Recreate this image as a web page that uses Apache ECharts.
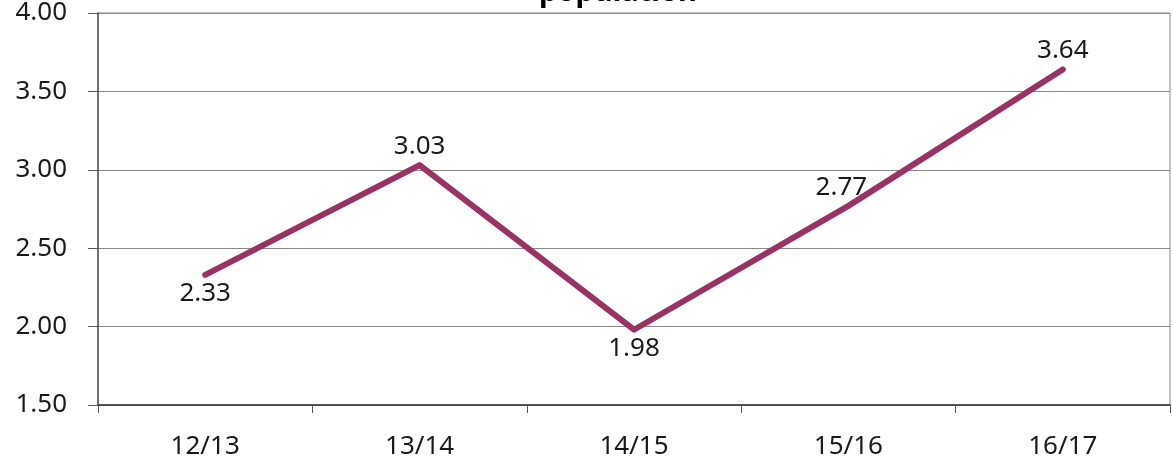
<!DOCTYPE html>
<html>
<head>
<meta charset="utf-8">
<script src="https://cdn.jsdelivr.net/npm/echarts@6/dist/echarts.min.js"></script>
<style>
  html, body { margin: 0; padding: 0; background: #fff; }
  #chart { width: 1173px; height: 461px; }
</style>
</head>
<body>
<div id="chart"></div>
<script>
// data
const categories = ['12/13', '13/14', '14/15', '15/16', '16/17']
const values = [2.33, 3.03, 1.98, 2.77, 3.64]
const labelPlaces = ['bottom', 'top', 'bottom', 'top', 'top']
const yTicks = { min: 1.5, max: 4, interval: 0.5 }

const font = 'Noto Sans'
const lineColor = '#993366'

const chart = echarts.init(document.getElementById('chart'))

chart.setOption({
  animation: false,
  title: {
    text: 'population',
    left: 534,
    top: -27,
    textStyle: { fontFamily: font, fontSize: 29, fontWeight: 'bold', color: '#000' }
  },
  grid: {
    left: 98,
    right: 3,
    top: 13,
    bottom: 56,
    show: true,
    borderColor: '#888',
    borderWidth: 1
  },
  xAxis: {
    type: 'category',
    data: categories,
    boundaryGap: true,
    axisLine: { lineStyle: { color: '#333', width: 1.5 } },
    axisTick: { show: true, length: 8, lineStyle: { color: '#555' } },
    axisLabel: { fontFamily: font, fontSize: 26, color: '#1a1a1a', margin: 29 }
  },
  yAxis: {
    type: 'value',
    min: yTicks.min,
    max: yTicks.max,
    interval: yTicks.interval,
    axisLine: { show: true, lineStyle: { color: '#555', width: 1.5 } },
    axisTick: { show: true, inside: false, length: 10, lineStyle: { color: '#555' } },
    axisLabel: {
      fontFamily: font, fontSize: 26, color: '#1a1a1a', margin: 31,
      formatter: v => v.toFixed(2)
    },
    splitLine: { lineStyle: { color: '#888', width: 1 } }
  },
  series: [
    {
      type: 'line',
      data: values.map((v, i) => ({
        value: v,
        label: {
          position: labelPlaces[i],
          offset: i === 3 ? [-7, 0] : [0, 0]
        }
      })),
      symbol: 'circle',
      symbolSize: 1,
      itemStyle: { color: lineColor },
      lineStyle: { color: lineColor, width: 6, cap: 'round', join: 'round' },
      label: {
        show: true,
        distance: 5,
        fontFamily: font,
        fontSize: 26,
        color: '#1a1a1a',
        formatter: p => p.value.toFixed(2)
      }
    }
  ]
})
</script>
</body>
</html>
